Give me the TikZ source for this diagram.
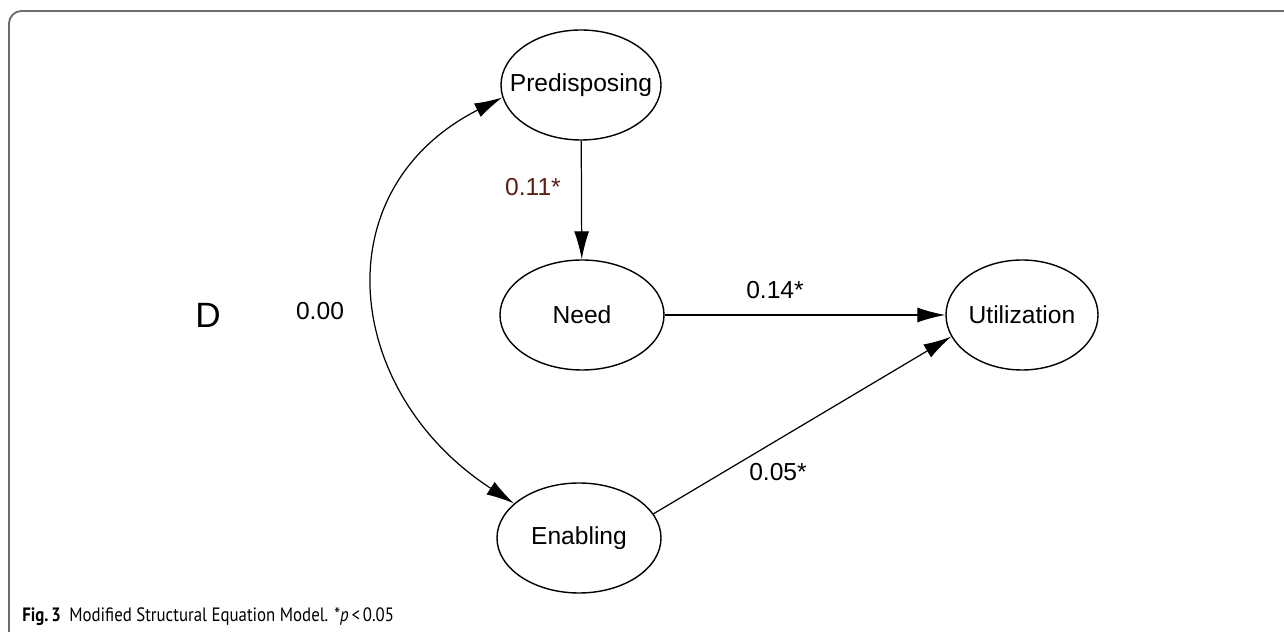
\documentclass[tikz,border=0pt]{standalone}
\usepackage{fontspec}
\setmainfont{Liberation Sans}
\newfontfamily\capfont{PT Sans}
\usepackage{tikz}
\usetikzlibrary{arrows.meta,shapes.geometric}

\definecolor{framegray}{RGB}{110,110,110}
\definecolor{coefbrown}{RGB}{90,30,20}

\tikzset{
    latent/.style={draw, ellipse, line width=0.8pt, minimum width=3.2cm, minimum height=2.2cm, inner sep=0pt},
    arr/.style={-{Latex[length=5.6mm,width=3mm]}, line width=0.7pt},
    dblarr/.style={{Latex[length=5.6mm,width=3mm]}-{Latex[length=5.6mm,width=3mm]}, line width=0.7pt},
    coef/.style={font=\fontsize{14}{16}\selectfont}
}

\begin{document}
\begin{tikzpicture}
        \useasboundingbox (0,0) rectangle (25.68,12.64);

        % Draw the frame
        \draw[framegray, line width=1.1pt, rounded corners=0.25cm] (0.18,0) -- (0.18,12.42) -- (25.68,12.42);

        % Add the latent variables
        \node[latent, label={[coef]center:Predisposing}] (pre) at (11.62,10.94) {};
        \node[latent, minimum width=3.28cm, label={[coef]center:Need}] (need) at (11.64,6.34) {};
        \node[latent, minimum width=3.04cm, label={[coef]center:Utilization}] (util) at (20.44,6.34) {};
        \node[latent, minimum width=3.28cm, label={[coef]center:Enabling}] (ena) at (11.58,1.88) {};

        % Draw the paths
        \draw[arr] (pre) -- (need);
        \draw[arr] (need) -- (util);
        \draw[arr] (ena.18) -- (util.197);
        \draw[dblarr] (pre.189) to[out=207,in=147,looseness=1.28] (ena.152);

        % Add the coefficients
        \node[font=\fontsize{20}{24}\selectfont] (dlab) at (4.16,6.34) {D};
        \node[coef] (c00) at (6.40,6.42) {0.00};
        \node[coef, text=coefbrown] (c11) at (10.66,8.90) {0.11*};
        \node[coef] (c14) at (15.50,6.84) {0.14*};
        \node[coef] (c05) at (15.56,3.20) {0.05*};

        % Add the caption
        \node[anchor=base west, inner sep=0pt, font=\capfont\fontsize{11}{13}\selectfont] (cap) at (0.44,0.2)
            {\scalebox{0.87}[1]{\textbf{Fig.\,3}\enspace Modified Structural Equation Model. *\textit{p}\,<\,0.05}};
    \end{tikzpicture}
\end{document}
